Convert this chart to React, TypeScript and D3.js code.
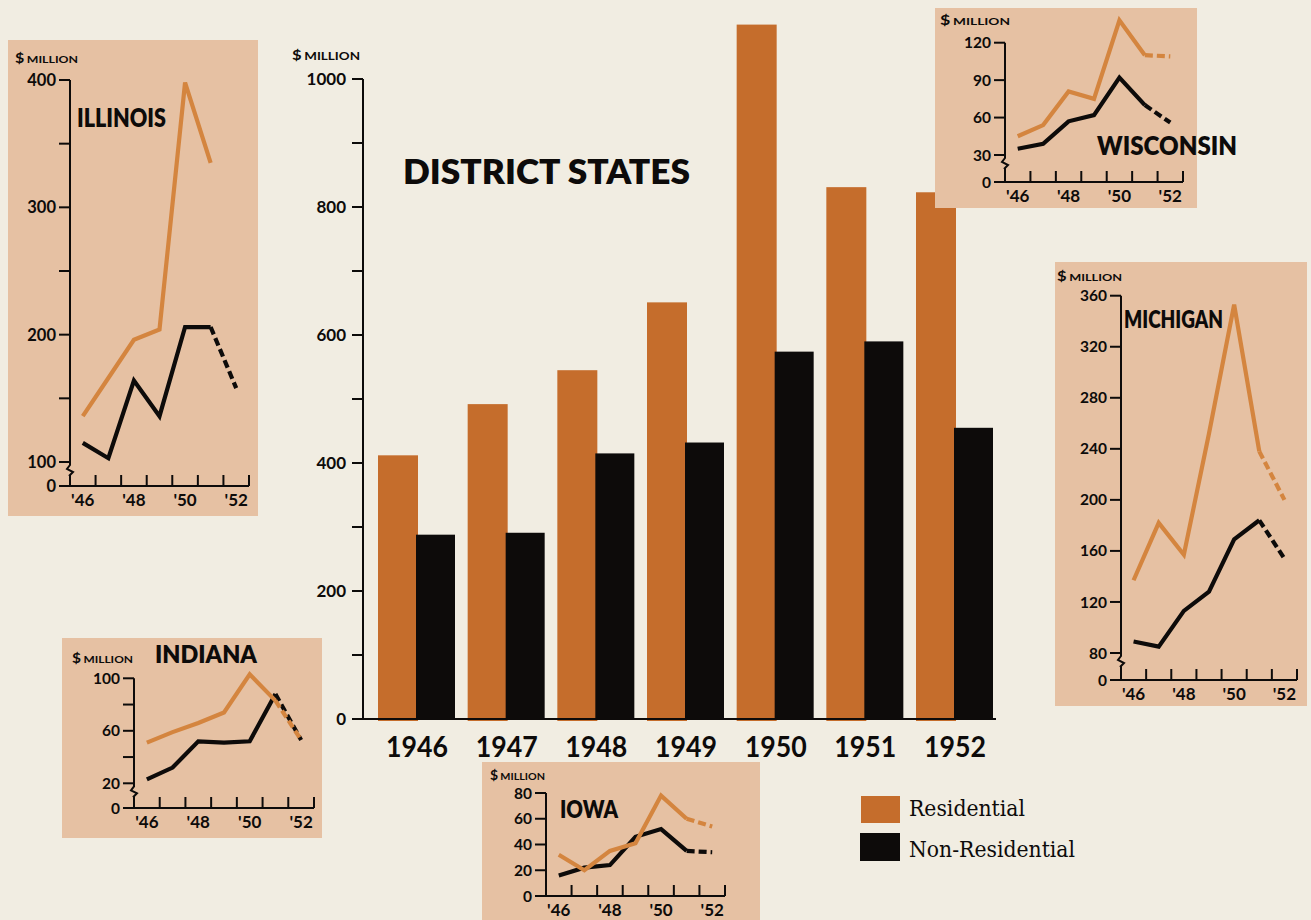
import React from 'react';
import * as d3 from 'd3';

// ---------- DATA ----------
const years = [1946, 1947, 1948, 1949, 1950, 1951, 1952];
const yearLabels = ['1946', '1947', '1948', '1949', '1950', '1951', '1952'];
const shortYearLabels: Record<number, string> = { 1946: "'46", 1948: "'48", 1950: "'50", 1952: "'52" };

const districtResidential = [412, 492, 545, 651, 1085, 831, 823];
const districtNonResidential = [288, 291, 415, 432, 574, 590, 455];
const districtTicks = [0, 100, 200, 300, 400, 500, 600, 700, 800, 900, 1000];
const districtTickLabels = [0, 200, 400, 600, 800, 1000];

const illinoisRes = [136, 166, 196, 204, 398, 335, null];
const illinoisNon = [115, 103, 164, 136, 206, 206, 158];
const wisconsinRes = [45, 54, 81, 75, 138, 110, 109];
const wisconsinNon = [35, 39, 57, 62, 92, 70, 56];
const michiganRes = [137, 182, 157, 252, 353, 238, 200];
const michiganNon = [89, 85, 113, 128, 169, 184, 154];
const indianaRes = [51, 59, 66, 74, 103, 83, 53];
const indianaNon = [23, 32, 52, 51, 52, 88, 53];
const iowaRes = [32, 20, 35, 41, 78, 60, 54];
const iowaNon = [16, 22, 24, 46, 52, 35, 34];

const legendLabels = ['Residential', 'Non-Residential'];

// ---------- STYLE ----------
const BG = '#f1ede2';
const PANEL = '#e6c1a3';
const ORANGE_BAR = '#c56d2c';
const ORANGE_LINE = '#d4853f';
const BLACK = '#0d0b0a';
const FONT = 'Lato, "Open Sans", sans-serif';

type PanelSpec = {
  name: string;
  res: (number | null)[];
  non: (number | null)[];
  rect: [number, number, number, number];
  axisX: number;
  axisXEnd: number;
  zeroY: number;
  domain: [number, number];
  range: [number, number];
  ticks: number[];
  labeled: number[];
  brk: boolean;
  tickFont: number;
  title: { x: number; y: number; len: number; size: number };
  unit: { x: number; y: number; len: number };
};

const panels: PanelSpec[] = [
  {
    name: 'ILLINOIS', res: illinoisRes, non: illinoisNon,
    rect: [8, 40, 250, 476], axisX: 70, axisXEnd: 249, zeroY: 486,
    domain: [100, 400], range: [462, 80],
    ticks: [100, 150, 200, 250, 300, 350, 400], labeled: [100, 200, 300, 400], brk: true, tickFont: 16.5,
    title: { x: 77, y: 127, len: 89, size: 27 }, unit: { x: 15, y: 63, len: 63 },
  },
  {
    name: 'WISCONSIN', res: wisconsinRes, non: wisconsinNon,
    rect: [935, 8, 262, 200], axisX: 1005, axisXEnd: 1183, zeroY: 182,
    domain: [30, 120], range: [155, 42.7],
    ticks: [30, 60, 90, 120], labeled: [30, 60, 90, 120], brk: true, tickFont: 15.5,
    title: { x: 1097, y: 155, len: 140, size: 27 }, unit: { x: 940, y: 25, len: 70 },
  },
  {
    name: 'MICHIGAN', res: michiganRes, non: michiganNon,
    rect: [1055, 262, 252, 444], axisX: 1121, axisXEnd: 1297, zeroY: 680,
    domain: [80, 360], range: [653, 295.7],
    ticks: [80, 120, 160, 200, 240, 280, 320, 360], labeled: [80, 120, 160, 200, 240, 280, 320, 360], brk: true, tickFont: 15.5,
    title: { x: 1124, y: 328, len: 99, size: 24 }, unit: { x: 1057, y: 281, len: 65 },
  },
  {
    name: 'INDIANA', res: indianaRes, non: indianaNon,
    rect: [62, 638, 260, 200], axisX: 134, axisXEnd: 314, zeroY: 808,
    domain: [20, 100], range: [783.3, 678.3],
    ticks: [20, 40, 60, 80, 100], labeled: [20, 60, 100], brk: true, tickFont: 15.5,
    title: { x: 155, y: 663, len: 102, size: 25 }, unit: { x: 72, y: 663, len: 61 },
  },
  {
    name: 'IOWA', res: iowaRes, non: iowaNon,
    rect: [482, 762, 278, 160], axisX: 546, axisXEnd: 725, zeroY: 896,
    domain: [0, 80], range: [896, 793],
    ticks: [0, 20, 40, 60, 80], labeled: [0, 20, 40, 60, 80], brk: false, tickFont: 15.5,
    title: { x: 560, y: 818, len: 58, size: 24 }, unit: { x: 490, y: 780, len: 55 },
  },
];

function UnitLabel({ x, y, len, big = 13, small = 10 }: { x: number; y: number; len: number; big?: number; small?: number }) {
  return (
    <text x={x} y={y} fontFamily={FONT} fontWeight={700} fill={BLACK} textLength={len} lengthAdjust="spacingAndGlyphs">
      <tspan fontSize={big}>$</tspan>
      <tspan fontSize={small} dx={2}>MILLION</tspan>
    </text>
  );
}

function Panel({ p }: { p: PanelSpec }) {
  const [rx, ry, rw, rh] = p.rect;
  const x = d3.scaleBand<number>().domain(years).range([p.axisX, p.axisXEnd]).padding(0);
  const y = d3.scaleLinear().domain(p.domain).range(p.range);
  const cx = (yr: number) => (x(yr) as number) + x.bandwidth() / 2;
  const line = d3.line<[number, number]>().x((d) => d[0]).y((d) => d[1]);

  const pts = (vals: (number | null)[], from: number, to: number) => {
    const out: [number, number][] = [];
    for (let i = from; i <= to; i++) {
      const v = vals[i];
      if (v !== null && v !== undefined) out.push([cx(years[i]), y(v)]);
    }
    return out;
  };
  const series = [
    { vals: p.non, color: BLACK },
    { vals: p.res, color: ORANGE_LINE },
  ];
  const yTop = y(p.domain[1]);
  const yb = y(p.domain[0]);
  const ax = p.axisX;
  const axisPath = p.brk
    ? `M${ax},${yTop}V${yb + 3}L${ax - 3},${yb + 7}L${ax + 3},${yb + 10}L${ax - 1},${yb + 14}M${ax},${yb + 13}V${p.zeroY}`
    : `M${ax},${yTop}V${p.zeroY}`;

  return (
    <g>
      <rect x={rx} y={ry} width={rw} height={rh} fill={PANEL} />
      <UnitLabel x={p.unit.x} y={p.unit.y} len={p.unit.len} />
      <text x={p.title.x} y={p.title.y} fontFamily={FONT} fontWeight={800} fontSize={p.title.size} fill={BLACK}
        textLength={p.title.len} lengthAdjust="spacingAndGlyphs">{p.name}</text>
      {/* y axis */}
      <path d={axisPath} fill="none" stroke={BLACK} strokeWidth={2} />
      {p.ticks.map((t) => (
        <line key={'t' + t} x1={ax - 11} x2={ax} y1={y(t)} y2={y(t)} stroke={BLACK} strokeWidth={2} />
      ))}
      {p.brk && <line x1={ax - 11} x2={ax} y1={p.zeroY} y2={p.zeroY} stroke={BLACK} strokeWidth={2} />}
      {p.labeled.map((t) => (
        <text key={'l' + t} x={ax - 14} y={y(t)} dy="0.36em" textAnchor="end" fontFamily={FONT} fontWeight={700}
          fontSize={p.tickFont} fill={BLACK}>{t}</text>
      ))}
      {p.brk && (
        <text x={ax - 14} y={p.zeroY} dy="0.36em" textAnchor="end" fontFamily={FONT} fontWeight={700}
          fontSize={p.tickFont} fill={BLACK}>0</text>
      )}
      {/* x axis */}
      <line x1={ax} x2={p.axisXEnd} y1={p.zeroY} y2={p.zeroY} stroke={BLACK} strokeWidth={2} />
      {years.map((yr) => (
        <line key={'xt' + yr} x1={(x(yr) as number) + x.bandwidth()} x2={(x(yr) as number) + x.bandwidth()}
          y1={p.zeroY} y2={p.zeroY - 11} stroke={BLACK} strokeWidth={2} />
      ))}
      {years.filter((yr) => shortYearLabels[yr]).map((yr) => (
        <text key={'xl' + yr} x={cx(yr)} y={p.zeroY + 20} textAnchor="middle" fontFamily={FONT} fontWeight={700}
          fontSize={17} fill={BLACK}>{shortYearLabels[yr]}</text>
      ))}
      {/* lines */}
      {series.map((s, i) => (
        <g key={'s' + i}>
          <path d={line(pts(s.vals, 0, 5)) || ''} fill="none" stroke={s.color} strokeWidth={4.2}
            strokeLinejoin="miter" strokeLinecap="butt" />
          {s.vals[6] !== null && s.vals[6] !== undefined && (
            <path d={line(pts(s.vals, 5, 6)) || ''} fill="none" stroke={s.color} strokeWidth={4.2}
              strokeDasharray="8 4" strokeLinecap="butt" />
          )}
        </g>
      ))}
    </g>
  );
}

function MainChart() {
  const y = d3.scaleLinear().domain([0, 1000]).range([719, 79]);
  const x = d3.scalePoint<number>().domain(years).range([417, 955]);
  const axisX = 363;
  return (
    <g>
      <UnitLabel x={292} y={60} len={68} big={13} small={10.5} />
      <text x={403} y={184} fontFamily={FONT} fontWeight={800} fontSize={33} fill={BLACK}
        textLength={287} lengthAdjust="spacingAndGlyphs">DISTRICT STATES</text>
      {years.map((yr, i) => {
        const c = x(yr) as number;
        return (
          <g key={yr}>
            <rect x={c - 39} y={y(districtResidential[i])} width={40} height={y(0) - y(districtResidential[i]) + 2}
              fill={ORANGE_BAR} />
            <rect x={c - 1} y={y(districtNonResidential[i])} width={39} height={y(0) - y(districtNonResidential[i])}
              fill={BLACK} />
            <text x={c} y={757} textAnchor="middle" fontFamily={FONT} fontWeight={700} fontSize={28} fill={BLACK}
              textLength={62} lengthAdjust="spacingAndGlyphs">{yearLabels[i]}</text>
          </g>
        );
      })}
      <line x1={axisX} x2={axisX} y1={y(1000)} y2={y(0)} stroke={BLACK} strokeWidth={2} />
      <line x1={axisX} x2={996} y1={y(0)} y2={y(0)} stroke={BLACK} strokeWidth={2} />
      {districtTicks.map((t) => (
        <line key={t} x1={axisX - 11} x2={axisX} y1={y(t)} y2={y(t)} stroke={BLACK} strokeWidth={2} />
      ))}
      {districtTickLabels.map((t) => (
        <text key={'l' + t} x={axisX - 17} y={y(t)} dy="0.36em" textAnchor="end" fontFamily={FONT} fontWeight={700}
          fontSize={17} fill={BLACK}>{t}</text>
      ))}
      {/* legend */}
      <rect x={861} y={796} width={39} height={27} fill={ORANGE_BAR} />
      <rect x={860} y={833} width={40} height={28} fill={BLACK} />
      <text x={909} y={816} fontFamily='"DejaVu Serif", serif' fontSize={23} fill={BLACK}
        textLength={116} lengthAdjust="spacingAndGlyphs">{legendLabels[0]}</text>
      <text x={909} y={857} fontFamily='"DejaVu Serif", serif' fontSize={23} fill={BLACK}
        textLength={166} lengthAdjust="spacingAndGlyphs">{legendLabels[1]}</text>
    </g>
  );
}

export default function App() {
  return (
    <svg width={1311} height={920} style={{ position: 'absolute', left: 0, top: 0, display: 'block' }}>
      <rect x={0} y={0} width={1311} height={920} fill={BG} />
      <MainChart />
      {panels.map((p) => (
        <Panel key={p.name} p={p} />
      ))}
    </svg>
  );
}
